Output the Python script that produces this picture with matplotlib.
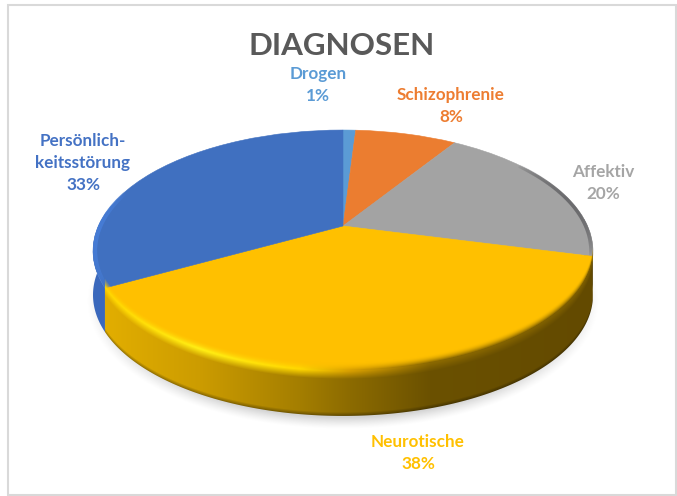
import numpy as np
import matplotlib
matplotlib.use("Agg")
import matplotlib.pyplot as plt
from matplotlib.collections import LineCollection
from matplotlib.patches import Polygon, Rectangle
from matplotlib.transforms import Transform

plt.rcParams["font.family"] = ["Lato", "DejaVu Sans"]

categories = ["Drogen", "Schizophrenie", "Affektiv", "Neurotische", "Persönlich-\nkeitsstörung"]
values = [1, 8, 20, 38, 33]
colors = ["#5B9BD5", "#EB7D30", "#A3A3A3", "#FFC000", "#4070C0"]
label_colors = ["#5B9BD5", "#ED7D31", "#A5A5A5", "#FFC000", "#4472C4"]
label_pos = [(318, 85), (451, 106), (603, 183), (418, 453), (83, 163)]
title = "DIAGNOSEN"

W, H = 677, 496
CX, CY = 343, 226  # apex of the pie in pixels
A, B, K = 244.6, 115.8, 0.2066  # tilt of the disc
DEPTH = 44


def project(x, y):
    d = 1 + K * y
    return CX + A * x / d, CY - B * y / d


class TiltTransform(Transform):
    input_dims = 2
    output_dims = 2

    def transform_non_affine(self, values):
        xy = np.asarray(values, dtype=float)
        px, py = project(xy[:, 0], xy[:, 1])
        return np.column_stack([px, py])


def rim(f0, f1, r=1.0, n=200):
    # outer edge between two cumulative fractions, clockwise from 12 o'clock
    ang = np.pi / 2 - 2 * np.pi * np.linspace(f0, f1, n)
    return project(r * np.cos(ang), r * np.sin(ang))


def rgb(hexes):
    return np.array([matplotlib.colors.to_rgb(h) for h in hexes])


def fade_line(ax, f0, f1, color, r, lw, peak, z):
    px, py = rim(f0, f1, r)
    pts = np.column_stack([px, py])
    segs = np.stack([pts[:-1], pts[1:]], axis=1)
    t = np.linspace(0, 1, len(segs))
    alpha = peak * np.sin(np.pi * t) ** 0.6
    cols = np.tile(matplotlib.colors.to_rgba(color), (len(segs), 1))
    cols[:, 3] = alpha
    ax.add_collection(LineCollection(segs, colors=cols, linewidths=lw, zorder=z))


fig = plt.figure(figsize=(W / 100, H / 100), dpi=100)
ax = fig.add_axes([0, 0, 1, 1])

yy, xx = np.mgrid[0:H, 0:W] + 0.5

# soft shadow under the disc
r = np.hypot((xx - 343) / 256, (yy - 301) / 128)
shadow = np.zeros((H, W, 4))
shadow[..., :3] = 0.78
shadow[..., 3] = np.clip((1.0 - r) / 0.09, 0, 1) ** 1.3 * 0.75
ax.imshow(shadow, extent=(0, W, H, 0), aspect="auto", zorder=0, interpolation="bilinear")

cum = np.cumsum(values) / np.sum(values)

# plain side walls for the blue and grey slices
bx, by = rim(cum[3], cum[3] + 0.10)
ax.add_patch(Polygon(np.column_stack([np.r_[bx, bx[::-1]], np.r_[by, by[::-1] + DEPTH]]),
                     fc="#3A68BC", ec="none", zorder=1))
gx, gy = rim(cum[1] + 0.15, cum[2])
ax.add_patch(Polygon(np.column_stack([np.r_[gx, gx[::-1]], np.r_[gy, gy[::-1] + DEPTH]]),
                     fc="#55575C", ec="none", zorder=1))

# top surface
wedges, _ = ax.pie(values, colors=colors, startangle=90, counterclock=False)
tilt = TiltTransform()
for w, c in zip(wedges, colors):
    w.set_transform(tilt + ax.transData)
    w.set_edgecolor(c)
    w.set_linewidth(0.4)
    w.set_zorder(2)

# neurotic slice: wall with horizontal shading and bevel over the rim
rx, ry = rim(cum[2], cum[3], n=400)
order = np.argsort(rx)
rim_y = np.interp(xx, rx[order], ry[order])
dy = yy - rim_y

stop_x = [105, 200, 300, 350, 430, 590]
wall_stops = rgb(["#E2AE00", "#CC9C00", "#A47E00", "#8C6B00", "#6B5100", "#634A00"])
hl_stops = rgb(["#FFD400", "#FFEC14", "#FFD600", "#D9A000", "#8A6800", "#7A5C00"])
wall = np.stack([np.interp(xx, stop_x, wall_stops[:, i]) for i in range(3)], axis=-1)
hl = np.stack([np.interp(xx, stop_x, hl_stops[:, i]) for i in range(3)], axis=-1)
surf = np.array(matplotlib.colors.to_rgb(colors[3]))

t1 = np.clip((dy + 10) / 8, 0, 1)
t2 = np.clip((dy + 1) / 8, 0, 1)
img = np.zeros((H, W, 4))
img[..., :3] = surf + (hl - surf) * t1[..., None]
img[..., :3] += (wall - img[..., :3]) * t2[..., None]
img[..., :3] *= (1 - 0.35 * np.clip((dy - (DEPTH - 4)) / 4, 0, 1))[..., None]
img[..., 3] = t1
im = ax.imshow(img, extent=(0, W, H, 0), aspect="auto", zorder=3, interpolation="bilinear")
im.set_clip_path(Polygon(np.column_stack([np.r_[rx, rx[::-1]], np.r_[ry - 11, ry[::-1] + DEPTH]]),
                         transform=ax.transData))

# bevel along the back rim
fade_line(ax, cum[1] + 0.06, cum[2], "#4A4A4E", 0.992, 2.5, 0.75, 3)
fade_line(ax, cum[3], 0.80, "#4C86E6", 0.992, 3.0, 0.7, 3)

# frame
ax.add_patch(Rectangle((8, 4.5), 668, 490.5, fc="none", ec="#D9D9D9", lw=1.5, zorder=4))

ax.text(342, 46, title, color="#595959", fontsize=22.6, fontweight="bold",
        ha="center", va="center", zorder=5)
for cat, val, col, pos in zip(categories, values, label_colors, label_pos):
    ax.text(pos[0], pos[1], f"{cat}\n{val}%", color=col, fontsize=12.3, fontweight="bold",
            ha="center", va="center", linespacing=1.5, zorder=5)

ax.set_xlim(0, W)
ax.set_ylim(H, 0)
ax.set_aspect("auto")
ax.axis("off")
fig.savefig("out.png", dpi=100, facecolor="white")
